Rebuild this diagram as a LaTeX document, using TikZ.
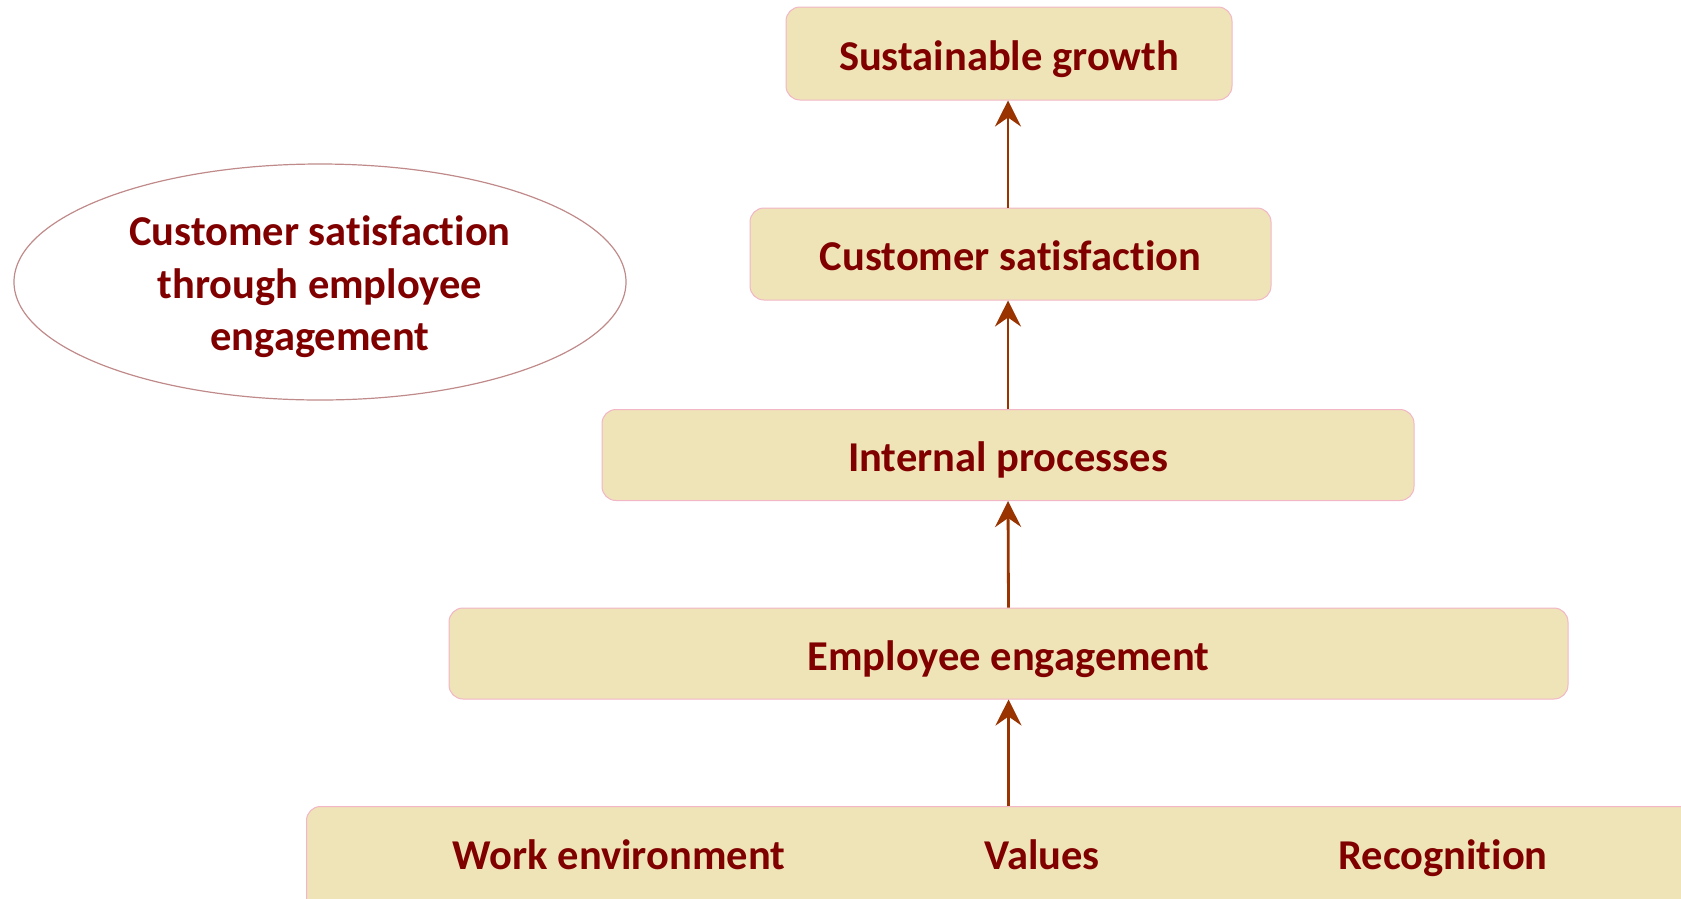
\documentclass[tikz,border=0pt]{standalone}
\usepackage{fontspec}
\setmainfont{Carlito}[Ligatures=NoCommon]
\usetikzlibrary{arrows.meta,calc}
\definecolor{boxfill}{HTML}{EFE3B8}
\definecolor{boxline}{HTML}{F2B6C6}
\definecolor{textred}{HTML}{800000}
\definecolor{arrowcol}{HTML}{993300}
\definecolor{ovalline}{HTML}{C08A8A}
\tikzset{
  bigbold/.style={font=\fontsize{42.5}{52.5}\selectfont\bfseries},
  stagebox/.style={rectangle, rounded corners=14pt, fill=boxfill, draw=boxline,
    line width=1pt, inner sep=0pt, text=textred, bigbold,
    text height=33pt, text depth=0pt},
  uparrow/.style={draw=arrowcol, line width=2.8pt,
    -{Stealth[length=26pt, width=26pt, inset=9pt]}},
  labeltext/.style={text=textred, bigbold, inner sep=0pt}
}
\begin{document}
\begin{tikzpicture}[x=1pt, y=-1pt]
  \useasboundingbox (0,0) rectangle (1681,898);
  \clip (0,0) rectangle (1681,898);

  % oval title
  \draw[ovalline, line width=1.2pt] (320,282) ellipse [x radius=306, y radius=118];
  \node[labeltext, align=center] (title) at (320,287)
    {Customer satisfaction\\through employee\\engagement};

  % stages, bottom to top
  \node[stagebox, minimum width=1460pt, minimum height=110pt, anchor=north west]
    (base) at (306,806) {};
  \node[labeltext, anchor=base] (work) at (619,869) {Work environment};
  \node[labeltext, anchor=base] (values) at (1042,869) {Values};
  \node[labeltext, anchor=base] (recog) at (1443,869) {Recognition};

  \node[stagebox, minimum width=1119pt, minimum height=91pt] (emp) at (1008.5,653.5) {Employee engagement};
  \node[stagebox, minimum width=812pt, minimum height=91pt] (proc) at (1008,455) {Internal processes};
  \node[stagebox, minimum width=521pt, minimum height=92pt] (cust) at (1010.5,254) {Customer satisfaction};
  \node[stagebox, minimum width=446pt, minimum height=93pt] (grow) at (1009,53.5) {Sustainable growth};

  % upward links
  \draw[uparrow] (base.north -| emp.center) -- (emp.south);
  \draw[uparrow] (emp.north) -- (proc.south);
  \draw[uparrow] (proc.north) -- (proc.north |- cust.south);
  \draw[uparrow] (cust.north -| proc.north) -- (grow.south -| proc.north);
\end{tikzpicture}
\end{document}
